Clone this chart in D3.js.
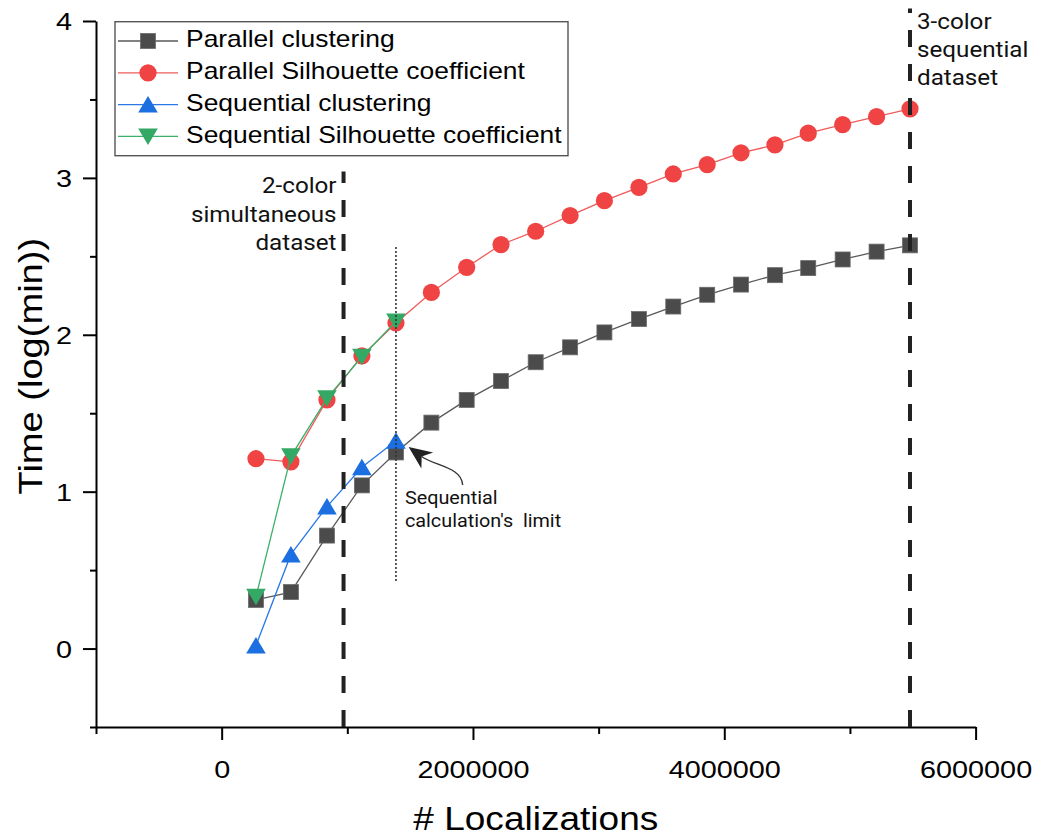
<!DOCTYPE html>
<html>
<head>
<meta charset="utf-8">
<script src="https://cdn.jsdelivr.net/npm/d3@7"></script>
<style>
  body { margin: 0; background: #ffffff; }
  svg { display: block; }
</style>
</head>
<body>
<svg id="chart" width="1037" height="837"></svg>
<script>
// Number of localizations per dataset (x values)
const localizations = [273000, 551000, 838000, 1116000, 1387000, 1669000, 1950000, 2223000, 2499000, 2773000,
                       3046000, 3321000, 3594000, 3864000, 4133000, 4403000, 4668000, 4942000, 5212000, 5478000];
// Timing series, log10(minutes)
const parallelClustering = [0.31, 0.36, 0.72, 1.04, 1.25, 1.44, 1.585, 1.705, 1.825, 1.92,
                            2.015, 2.10, 2.18, 2.255, 2.32, 2.38, 2.425, 2.48, 2.53, 2.57];
const parallelSilhouette = [1.21, 1.19, 1.585, 1.865, 2.075, 2.27, 2.43, 2.575, 2.66, 2.76,
                            2.855, 2.94, 3.025, 3.085, 3.16, 3.21, 3.285, 3.34, 3.39, 3.44];
const sequentialClustering = [0.02, 0.60, 0.905, 1.155, 1.325];
const sequentialSilhouette = [0.33, 1.225, 1.595, 1.86, 2.085];

const seriesNames = ["Parallel clustering", "Parallel Silhouette coefficient",
                     "Sequential clustering", "Sequential Silhouette coefficient"];

// Axis ticks
const xTicksMajor = [0, 2000000, 4000000, 6000000];
const xTicksMinor = [-1000000, 1000000, 3000000, 5000000];
const yTicksMajor = [0, 1, 2, 3, 4];
const yTicksMinor = [-0.5, 0.5, 1.5, 2.5, 3.5];

// Dataset size markers (dashed verticals) and the sequential limit (dotted vertical)
const guideX = [970000, 5478000];
const guideTop = [3.04, 4.08];
const guideLabels = [["2-color", "simultaneous", "dataset"], ["3-color", "sequential", "dataset"]];
const limitX = 1387000;
const limitRange = [0.43, 2.56];
const limitLabel = ["Sequential", "calculation's  limit"];
// Arrow from the label up to the last sequential point
const arrowTail = [1918000, 1.043];
const arrowTip = [1488000, 1.285];

const svg = d3.select("#chart");
const W = 1037, H = 837;
svg.append("rect").attr("width", W).attr("height", H).attr("fill", "#fff");

const x = d3.scaleLinear().domain([-1000000, 6000000]).range([96, 975.6]);
const y = d3.scaleLinear().domain([-0.5, 4]).range([727, 21]);

const AXIS_FONT = "'Liberation Sans', Arial, sans-serif";
const NOTE_FONT = "Roboto, 'Noto Sans', sans-serif";

// ---- axes ----
function styleAxis(g) {
  g.select(".domain").attr("stroke", "#000").attr("stroke-width", 2);
  g.selectAll(".tick line").attr("stroke", "#000").attr("stroke-width", 2);
}

const xAxisG = svg.append("g").attr("transform", `translate(0,${y(-0.5)})`);
xAxisG.append("g")
  .call(d3.axisBottom(x).tickValues(xTicksMinor).tickSize(7).tickSizeOuter(0).tickFormat(""))
  .call(styleAxis);
const xMajor = xAxisG.append("g")
  .call(d3.axisBottom(x).tickValues(xTicksMajor).tickSize(13).tickSizeOuter(0).tickFormat(d3.format("d")))
  .call(styleAxis);
xMajor.select(".domain").remove();
xMajor.selectAll(".tick text")
  .attr("y", null).attr("dy", null)
  .attr("transform", "translate(0,51) scale(1.2,1)")
  .attr("font-family", AXIS_FONT).attr("font-size", 24).attr("fill", "#000");

const yAxisG = svg.append("g").attr("transform", `translate(${x(-1000000)},0)`);
yAxisG.append("g")
  .call(d3.axisLeft(y).tickValues(yTicksMinor).tickSize(6).tickSizeOuter(0).tickFormat(""))
  .call(styleAxis);
const yMajor = yAxisG.append("g")
  .call(d3.axisLeft(y).tickValues(yTicksMajor).tickSize(13).tickSizeOuter(0).tickFormat(d3.format("d")))
  .call(styleAxis);
yMajor.select(".domain").remove();
yMajor.selectAll(".tick text")
  .attr("x", null).attr("dy", null)
  .attr("transform", "translate(-24,8.5) scale(1.2,1)")
  .attr("font-family", AXIS_FONT).attr("font-size", 24).attr("fill", "#000");

// axis titles
svg.append("text")
  .attr("transform", `translate(${(x.range()[0] + x.range()[1]) / 2},830) scale(1.09,1)`)
  .attr("text-anchor", "middle")
  .attr("font-family", AXIS_FONT).attr("font-size", 34)
  .text("# Localizations");
svg.append("text")
  .attr("transform", `translate(42,${y(1.8)}) rotate(-90) scale(1.12,1)`)
  .attr("text-anchor", "middle")
  .attr("font-family", AXIS_FONT).attr("font-size", 34)
  .text("Time (log(min))");

// ---- series ----
const series = [
  { name: seriesNames[0], values: parallelClustering, color: "#4b4b4b", line: "#5a5a5a", shape: "square" },
  { name: seriesNames[1], values: parallelSilhouette, color: "#f04343", line: "#f05a5a", shape: "circle" },
  { name: seriesNames[2], values: sequentialClustering, color: "#1c6fe0", line: "#2a78e8", shape: "up" },
  { name: seriesNames[3], values: sequentialSilhouette, color: "#34a865", line: "#3caf6c", shape: "down" }
];

function drawMarker(g, shape, color) {
  if (shape === "square") {
    g.append("rect").attr("x", -7.5).attr("y", -7.5).attr("width", 15).attr("height", 15)
      .attr("fill", color).attr("stroke", "#6b6b6b").attr("stroke-width", 0.8);
  } else if (shape === "circle") {
    g.append("circle").attr("r", 8.6).attr("fill", color);
  } else if (shape === "up") {
    g.append("path").attr("d", "M0,-8.5L9.8,8L-9.8,8Z").attr("fill", color);
  } else {
    g.append("path").attr("d", "M-9.8,-8L9.8,-8L0,8.5Z").attr("fill", color);
  }
}

const line = d3.line().x(d => x(d[0])).y(d => y(d[1]));
const plot = svg.append("g");
series.forEach(s => {
  const pts = s.values.map((v, i) => [localizations[i], v]);
  plot.append("path").datum(pts).attr("d", line)
    .attr("fill", "none").attr("stroke", s.line).attr("stroke-width", 1.3);
  pts.forEach(p => {
    const g = plot.append("g").attr("transform", `translate(${x(p[0])},${y(p[1])})`);
    drawMarker(g, s.shape, s.color);
  });
});

// ---- guides ----
guideX.forEach((gx, i) => {
  svg.append("line")
    .attr("x1", x(gx)).attr("x2", x(gx))
    .attr("y1", y(-0.5)).attr("y2", y(guideTop[i]))
    .attr("stroke", "#222").attr("stroke-width", 4)
    .attr("stroke-dasharray", "17,17");
});
svg.append("line")
  .attr("x1", x(limitX)).attr("x2", x(limitX))
  .attr("y1", y(limitRange[1])).attr("y2", y(limitRange[0]))
  .attr("stroke", "#333").attr("stroke-width", 1.6)
  .attr("stroke-dasharray", "2,2");

// dataset labels
const leftLbl = svg.append("g").attr("font-family", NOTE_FONT).attr("font-size", 22).attr("fill", "#111");
guideLabels[0].forEach((t, i) => {
  leftLbl.append("text")
    .attr("transform", `translate(${x(guideX[0]) - 7},${193 + i * 28.5}) scale(1.1,1)`)
    .attr("text-anchor", "end").text(t);
});
const rightLbl = svg.append("g").attr("font-family", NOTE_FONT).attr("font-size", 22).attr("fill", "#111");
guideLabels[1].forEach((t, i) => {
  rightLbl.append("text")
    .attr("transform", `translate(${x(guideX[1]) + 7},${29 + i * 28}) scale(1.1,1)`)
    .attr("text-anchor", "start").text(t);
});

// sequential limit label
limitLabel.forEach((t, i) => {
  svg.append("text")
    .attr("transform", `translate(${x(limitX) + 9},${504 + i * 23}) scale(1.1,1)`)
    .attr("font-family", NOTE_FONT).attr("font-size", 18).attr("fill", "#111")
    .style("white-space", "pre")
    .text(t);
});

// curved arrow
{
  const tx = x(arrowTail[0]), ty = y(arrowTail[1]);
  const hx = x(arrowTip[0]), hy = y(arrowTip[1]);
  const ux = -0.81, uy = -0.59; // head direction
  const headLen = 23, headHalf = 10;
  const bx = hx - headLen * ux, by = hy - headLen * uy;
  const notchX = hx - 0.7 * headLen * ux, notchY = hy - 0.7 * headLen * uy;
  const p = d3.path();
  p.moveTo(tx, ty);
  p.bezierCurveTo(tx - 1, ty - 18, notchX - 16 * ux, notchY - 16 * uy, notchX, notchY);
  svg.append("path").attr("d", p.toString())
    .attr("fill", "none").attr("stroke", "#333").attr("stroke-width", 1.4);
  const nx = -uy, ny = ux;
  svg.append("path")
    .attr("d", `M${hx},${hy}L${bx + nx * headHalf},${by + ny * headHalf}L${notchX},${notchY}L${bx - nx * headHalf},${by - ny * headHalf}Z`)
    .attr("fill", "#222");
}

// ---- legend ----
const legend = svg.append("g");
legend.append("rect")
  .attr("x", 115).attr("y", 21.7).attr("width", 453).attr("height", 134)
  .attr("fill", "#fff").attr("stroke", "#555").attr("stroke-width", 1.4);
series.forEach((s, i) => {
  const cy = 41 + i * 31.8;
  legend.append("line").attr("x1", 118).attr("x2", 178).attr("y1", cy).attr("y2", cy)
    .attr("stroke", s.line).attr("stroke-width", 1.3);
  const g = legend.append("g").attr("transform", `translate(148,${cy})`);
  drawMarker(g, s.shape, s.color);
  legend.append("text")
    .attr("transform", `translate(186,${cy + 6.3}) scale(1.13,1)`)
    .attr("font-family", AXIS_FONT).attr("font-size", 23.4).attr("fill", "#000")
    .text(s.name);
});
</script>
</body>
</html>
